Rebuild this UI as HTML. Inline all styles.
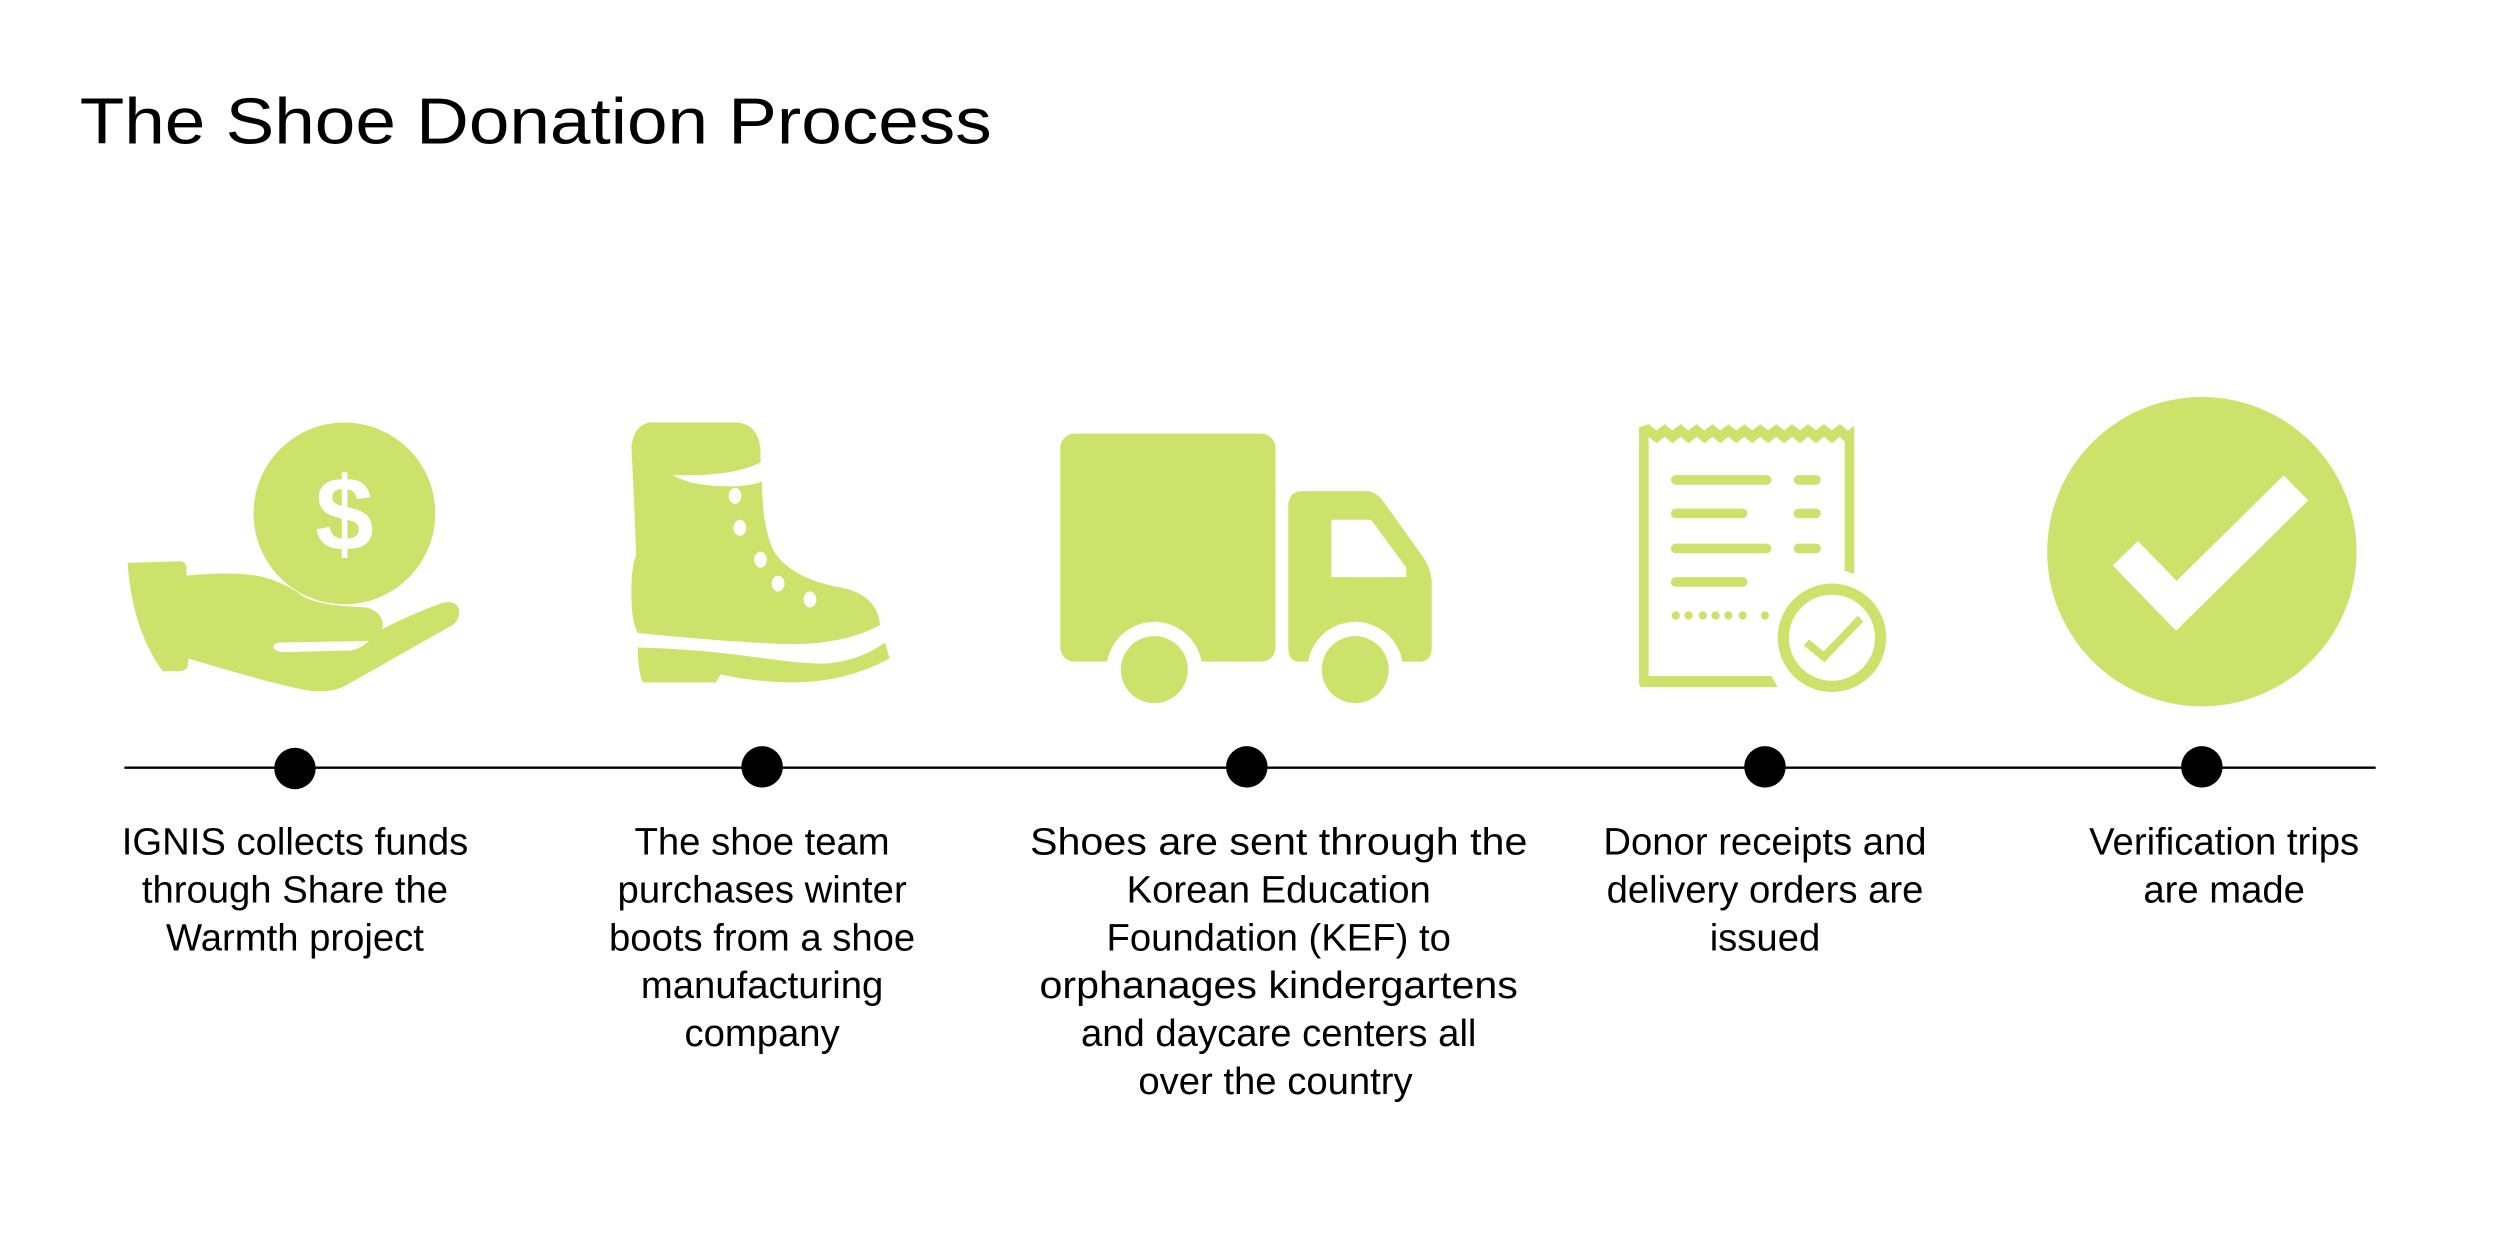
<!DOCTYPE html>
<html><head><meta charset="utf-8"><style>
html,body{margin:0;padding:0;background:#fff;}
svg{display:block}
text{font-family:"Liberation Sans",sans-serif;fill:#000}
</style></head><body>
<svg width="2500" height="1250" viewBox="0 0 1568 784" xmlns="http://www.w3.org/2000/svg">
<rect width="1568" height="784" fill="#fff"/>
<text x="50" y="90" font-size="41" textLength="572" lengthAdjust="spacingAndGlyphs">The Shoe Donation Process</text>
<g fill="#cbe36a">
<circle cx="216" cy="322" r="57"/>
<path d="M80,353 L113,352 Q117,352 117,357 L117,361 Q150,358 165,362 Q180,366 190,374 Q200,380 230,381 Q240,384 240,392 Q240,400 230,402 L175,403 Q170,404 172,407 Q174,409 178,409 L220,408 Q230,406 235,397 Q258,385 278,378 Q288,376 288,385 Q287,391 282,393 L215,431 Q205,435 193,433 Q175,430 118,413 L118,417 Q117,421 112,421 L102,421 Q83,395 80,353 Z"/>
<path d="M408,265 L462,265 Q476,266 477,283 L477,290 Q460,299 422,298 Q433,305 458,305 Q470,305 478,302 Q478,330 485,345 Q495,362 525,368 Q550,372 552,392 Q530,404 496,404 Q460,403 400,397 Q396,390 396,372 Q396,355 399,348 Q398,320 396,280 Q398,266 408,265 Z"/>
<path d="M400,406 Q440,407 480,413 Q510,417 520,416 Q540,414 555,403 L558,413 Q530,428 497,428 Q475,428 452,423 L449,428 L403,428 Q400,420 400,406 Z"/>
<rect x="665" y="272" width="135" height="143" rx="9"/>
<path d="M808,316 Q809,308 817,308 L857,308 Q863,308 868,315 L893,350 Q898,358 898,366 L898,406 Q898,415 890,415 L815,415 Q808,415 808,406 Z"/>
<path d="M1028,268 L1034,266 L1039,270 L1044,266 L1049,270 L1054,266 L1059,270 L1064,266 L1069,270 L1074,266 L1079,270 L1084,266 L1089,270 L1094,266 L1099,270 L1104,266 L1109,270 L1114,266 L1119,270 L1124,266 L1129,270 L1134,266 L1139,270 L1144,266 L1149,270 L1154,266 L1159,270 L1163,267 L1163,360 L1157,358 L1157,277 L1154,274 L1149,278 L1144,274 L1139,278 L1134,274 L1129,278 L1124,274 L1119,278 L1114,274 L1109,278 L1104,274 L1099,278 L1094,274 L1089,278 L1084,274 L1079,278 L1074,274 L1069,278 L1064,274 L1059,278 L1054,274 L1049,278 L1044,274 L1039,278 L1034,274 L1034,424 L1111,424 L1115,431 L1030,431 Q1028,431 1028,428 Z"/>
<rect x="1048" y="298" width="63" height="6" rx="3"/>
<rect x="1125" y="298" width="17" height="6" rx="3"/>
<rect x="1048" y="319" width="48" height="6" rx="3"/>
<rect x="1125" y="319" width="17" height="6" rx="3"/>
<rect x="1048" y="341" width="63" height="6" rx="3"/>
<rect x="1125" y="341" width="17" height="6" rx="3"/>
<rect x="1048" y="362" width="48" height="6" rx="3"/>
<circle cx="1051" cy="386" r="2.6"/><circle cx="1059" cy="386" r="2.6"/><circle cx="1068" cy="386" r="2.6"/><circle cx="1076" cy="386" r="2.6"/><circle cx="1084" cy="386" r="2.6"/><circle cx="1093" cy="386" r="2.6"/><circle cx="1107" cy="386" r="2.6"/>
<circle cx="1381" cy="346" r="97"/>
</g>
<text x="216" y="345" font-size="66" font-weight="bold" text-anchor="middle" style="fill:#fff">$</text>
<g fill="#fff">
<ellipse cx="461" cy="311" rx="4" ry="5"/><ellipse cx="464" cy="331" rx="4" ry="5"/><ellipse cx="477" cy="351" rx="4" ry="5"/><ellipse cx="488" cy="366" rx="4" ry="5"/><ellipse cx="508" cy="376" rx="4" ry="5"/>
<path d="M835,326 L860,326 L882,356 L882,362 L835,362 Z"/>
<circle cx="724" cy="420" r="30"/><circle cx="850" cy="420" r="30"/>
</g>
<g fill="#cbe36a">
<circle cx="724" cy="420" r="21"/><circle cx="850" cy="420" r="21"/>
<circle cx="1149" cy="400" r="36" stroke="#fff" stroke-width="4"/>
</g>
<circle cx="1149" cy="400" r="27" fill="#fff"/>
<polyline points="1133,403 1144,412 1167,388" fill="none" stroke="#cbe36a" stroke-width="5"/>
<polyline points="1333,347 1365,380 1440,306" fill="none" stroke="#fff" stroke-width="22"/>
<line x1="78" y1="481.5" x2="1490" y2="481.5" stroke="#000" stroke-width="1.5"/>
<g fill="#000">
<circle cx="185" cy="482" r="13"/><circle cx="478" cy="481" r="13"/><circle cx="782" cy="481" r="13"/><circle cx="1107" cy="481" r="13"/><circle cx="1381" cy="481" r="13"/>
</g>
<g font-size="24" text-anchor="middle">
<text x="185" y="536">IGNIS collects funds</text>
<text x="185" y="566">through Share the</text>
<text x="185" y="596">Warmth project</text>
<text x="478" y="536">The shoe team</text>
<text x="478" y="566">purchases winter</text>
<text x="478" y="596">boots from a shoe</text>
<text x="478" y="626">manufacturing</text>
<text x="478" y="656">company</text>
<text x="802" y="536" textLength="312" lengthAdjust="spacingAndGlyphs">Shoes are sent through the</text>
<text x="802" y="566">Korean Education</text>
<text x="802" y="596">Foundation (KEF) to</text>
<text x="802" y="626" textLength="300" lengthAdjust="spacingAndGlyphs">orphanages kindergartens</text>
<text x="802" y="656">and daycare centers all</text>
<text x="800" y="686">over the country</text>
<text x="1107" y="536">Donor receipts and</text>
<text x="1107" y="566">delivery orders are</text>
<text x="1107" y="596">issued</text>
<text x="1395" y="536">Verification trips</text>
<text x="1395" y="566">are made</text>
</g>
</svg>
</body></html>
